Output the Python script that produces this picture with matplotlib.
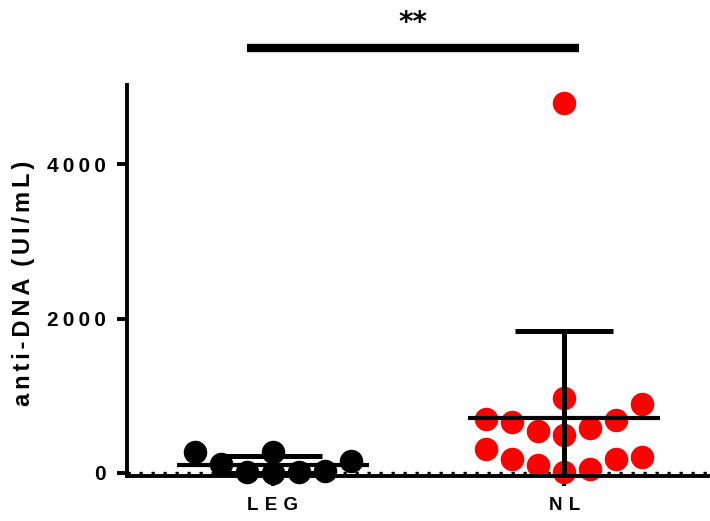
import numpy as np
import matplotlib.pyplot as plt

# anti-DNA titres per group
groups = ["LEG", "NL"]
leg_values = [5, 10, 10, 30, 115, 150, 265, 265]
nl_values = [17, 48, 103, 177, 181, 202, 306, 490, 542, 584, 662, 684, 705, 899, 977, 4800]
group_colors = ["black", "red"]
yticks = [0, 2000, 4000]
ylabel = "anti-DNA (UI/mL)"
significance = "**"

FONTS = ["Liberation Sans", "DejaVu Sans"]
plt.rcParams["font.family"] = FONTS
plt.rcParams["font.weight"] = "bold"


def spaced(text, gap):
    # letter tracking, words kept apart by an en space
    return "\u2002".join(gap.join(word) for word in text.split(" "))


def swarm_offsets(values, row_height, step, max_per_row=7):
    # points are grouped into rows, each row spread symmetrically around the centre
    vals = np.asarray(values, dtype=float)
    order = np.argsort(vals, kind="stable")
    offsets = np.zeros(len(vals))
    rows = []
    current = [order[0]]
    start = vals[order[0]]
    for idx in order[1:]:
        if vals[idx] - start < row_height and len(current) < max_per_row:
            current.append(idx)
        else:
            rows.append(current)
            current = [idx]
            start = vals[idx]
    rows.append(current)

    for r, row in enumerate(rows):
        n = len(row)
        sign = 1 if r % 2 == 0 else -1
        slots = [0] if n % 2 else []
        k = 1 if n % 2 else 0.5
        while len(slots) < n:
            slots += [sign * k, -sign * k]
            k += 1
        for idx, slot in zip(row, slots[:n]):
            offsets[idx] = slot * step
    return offsets


fig = plt.figure(figsize=(7.1, 5.21), dpi=100)
ax = fig.add_axes([0.1789, 0.0864, 0.8211, 0.7505])
ax.set_xlim(-0.5, 1.5)
ax.set_ylim(-40, 5030)

# size of one pixel in data units, used to lay the dots out
x0, y0 = ax.transData.transform((0, 0))
x1, y1 = ax.transData.transform((1, 1))
px_x = 1.0 / (x1 - x0)
px_y = 1.0 / (y1 - y0)
marker_px = 23.5

ax.axhline(0, color="black", lw=2.4, linestyle=(0, (1, 2.6)), zorder=1)

for i, (vals, color) in enumerate(zip([leg_values, nl_values], group_colors)):
    vals = np.asarray(vals, dtype=float)
    offs = swarm_offsets(vals, row_height=34 * px_y, step=26 * px_x)
    ax.plot(i + offs, vals, "o", color=color, markersize=marker_px * 0.72,
            markeredgewidth=0, zorder=2, clip_on=False)

    mean = vals.mean()
    sd = vals.std(ddof=1)
    lower = max(mean - sd, ax.get_ylim()[0])
    ax.hlines(mean, i - 0.33, i + 0.33, color="black", lw=3, zorder=4)
    ax.errorbar(i, mean, yerr=[[mean - lower], [sd]], fmt="none", ecolor="black",
                elinewidth=3.6, capsize=35, capthick=3.6, zorder=4)

# axes styling
for side in ["top", "right"]:
    ax.spines[side].set_visible(False)
for side in ["left", "bottom"]:
    ax.spines[side].set_linewidth(2.8)

ax.set_xticks(range(len(groups)))
ax.set_xticklabels([spaced(g, "\u2004") for g in groups], fontsize=13.5,
                   fontweight="bold")
ax.set_yticks(yticks)
ax.set_yticklabels([spaced(str(t), "\u2009") for t in yticks], fontsize=15,
                   fontweight="bold")
ax.tick_params(axis="y", length=7, width=2.8, pad=8)
ax.tick_params(axis="x", length=7, width=2.8, pad=8)

fig.text(24 / 710, 1 - 283 / 521, spaced(ylabel, "\u2006"), rotation=90,
         ha="center", va="center", fontsize=17, fontweight="bold")

# significance bracket between the two groups
bar_y = 5510
ax.plot([-0.09, 1.05], [bar_y, bar_y], color="black", lw=6,
        solid_capstyle="butt", clip_on=False)
ax.text(0.48, bar_y + 330, significance, ha="center", va="center",
        fontsize=20, fontweight="bold", family="DejaVu Sans", clip_on=False)

fig.savefig("out.png", dpi=100)
